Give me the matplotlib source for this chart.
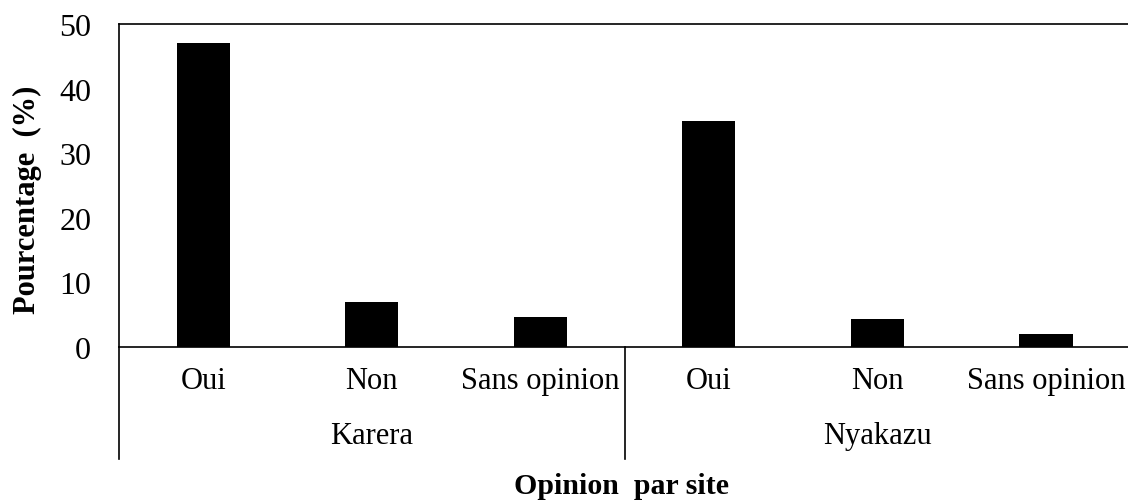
import matplotlib.pyplot as plt
import matplotlib.transforms as mtransforms
import numpy as np

plt.rcParams['font.family'] = ['Liberation Serif', 'DejaVu Serif']

sites = ['Karera', 'Nyakazu']
opinions = ['Oui', 'Non', 'Sans opinion']
karera = [47.1, 6.9, 4.7]
nyakazu = [35.0, 4.4, 2.0]

values = karera + nyakazu
labels = opinions + opinions
x = np.arange(len(values))

fig = plt.figure(figsize=(11.28, 5.02), dpi=100)
ax = fig.add_axes([0.1055, 0.3068, 0.8965, 0.6432])

ax.bar(x, values, width=0.315, color='black')
ax.set_xlim(-0.5, len(values) - 0.5)
ax.set_ylim(0, 50)
ax.set_yticks(np.arange(0, 51, 10))
ax.tick_params(axis='y', length=0, labelsize=23, pad=20)
ax.set_xticks([])

for s in ['top', 'left', 'bottom', 'right']:
    ax.spines[s].set_linewidth(1.2)
    ax.spines[s].set_color('black')

trans = mtransforms.blended_transform_factory(ax.transData, ax.transAxes)

# multi-level category axis
for xi, lab in zip(x, labels):
    ax.text(xi, -0.105, lab, transform=trans, ha='center', va='center',
            fontsize=22)
for i, site in enumerate(sites):
    ax.text(1 + 3 * i, -0.275, site, transform=trans, ha='center',
            va='center', fontsize=22)

ax.plot([0, 0], [0, -0.347], transform=ax.transAxes, color='black',
        lw=1.2, clip_on=False)
ax.plot([2.5, 2.5], [0, -0.347], transform=trans, color='black',
        lw=1.2, clip_on=False)

ax.text(0.497, -0.428, 'Opinion  par site', transform=ax.transAxes,
        ha='center', va='center', fontsize=21.5, fontweight='bold')
ax.set_ylabel('Pourcentage  (%)', fontsize=22, fontweight='bold')
ax.yaxis.set_label_coords(-0.076, 0.458)

fig.savefig('out.png', dpi=100)
